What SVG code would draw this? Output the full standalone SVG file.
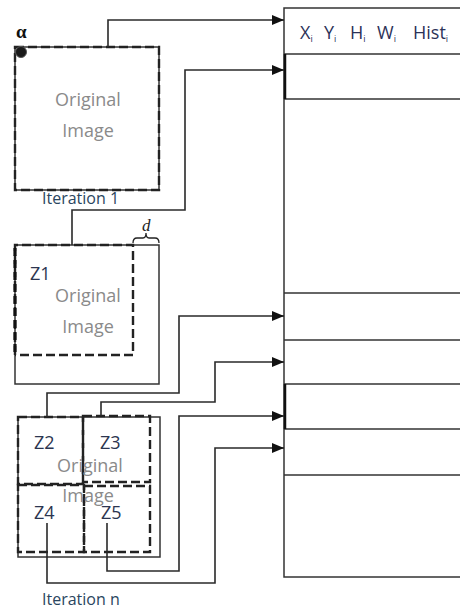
<svg xmlns="http://www.w3.org/2000/svg" width="460" height="609" viewBox="0 0 460 609">
<style>
.ln{fill:none;stroke:#2a2a2a;stroke-width:1.6}
.sol{fill:none;stroke:#333;stroke-width:1.5}
.dsh{fill:none;stroke:#222;stroke-width:2.4;stroke-dasharray:9 4}
.gray{font-family:"Open Sans",sans-serif;font-size:18px;fill:#8a8a8a}
.lab{font-family:"Open Sans",sans-serif;font-size:18px;fill:#2c3550}
.it{font-family:"Open Sans",sans-serif;font-size:16px;fill:#2a4560}
.hd{font-family:"Open Sans",sans-serif;font-size:18px;fill:#2c3258}
.sub{font-size:9px}
</style>
<defs>
<marker id="ah" viewBox="0 0 12 10" refX="12" refY="5" markerWidth="12" markerHeight="10" markerUnits="userSpaceOnUse" orient="auto">
<path d="M0,0 L12,5 L0,10 Z" fill="#111"/>
</marker>
</defs>

<g id="table">
<rect x="284" y="8" width="190" height="569" class="sol"/>
<line x1="284" y1="54" x2="460" y2="54" class="sol"/>
<line x1="284" y1="99" x2="460" y2="99" class="sol"/>
<line x1="284" y1="293" x2="460" y2="293" class="sol"/>
<line x1="284" y1="340" x2="460" y2="340" class="sol"/>
<line x1="284" y1="384" x2="460" y2="384" class="sol"/>
<line x1="284" y1="429" x2="460" y2="429" class="sol"/>
<line x1="284" y1="475" x2="460" y2="475" class="sol"/>
<line x1="285" y1="54" x2="285" y2="99" stroke="#111" stroke-width="2.5"/>
<line x1="285" y1="384" x2="285" y2="429" stroke="#111" stroke-width="2.5"/>
<text class="hd" y="39"><tspan x="300">X</tspan><tspan class="sub" dy="3">i</tspan><tspan x="324" dy="-3">Y</tspan><tspan class="sub" dy="3">i</tspan><tspan x="350" dy="-3">H</tspan><tspan class="sub" dy="3">i</tspan><tspan x="377" dy="-3">W</tspan><tspan class="sub" dy="3">i</tspan><tspan x="413" dy="-3">Hist</tspan><tspan class="sub" dy="3">i</tspan></text>
</g>

<g id="iter1">
<rect x="15" y="47" width="144" height="143" class="sol"/>
<rect x="15" y="47" width="144" height="143" class="dsh"/>
<text class="gray" x="88" y="106" text-anchor="middle">Original</text>
<text class="gray" x="88" y="137" text-anchor="middle">Image</text>
<circle cx="21" cy="52" r="5.5" fill="#1a1a1a" stroke="#555" stroke-width="1"/>
<text x="16" y="38" font-family="Liberation Serif,serif" font-size="19" font-weight="bold" fill="#111">α</text>
<text class="it" x="42" y="204">Iteration 1</text>
</g>

<g id="z1">
<rect x="15" y="245" width="144" height="139" class="sol"/>
<path d="M15,355 V245 H133 V355 H15" class="dsh"/>
<line x1="15" y1="248" x2="15" y2="352" stroke="#111" stroke-width="3.2" stroke-dasharray="8 4"/>
<text class="lab" x="30" y="280">Z1</text>
<text class="gray" x="88" y="302" text-anchor="middle">Original</text>
<text class="gray" x="88" y="333" text-anchor="middle">Image</text>
<path d="M133,243 Q133,238 137,238 H143 Q146,238 146,233 Q146,238 149,238 H155 Q159,238 159,243" fill="none" stroke="#222" stroke-width="1.3"/>
<text x="142" y="231" font-family="Liberation Serif,serif" font-size="17" font-style="italic" fill="#222">d</text>
</g>

<g id="itern">
<rect x="18" y="417" width="142" height="140" class="sol"/>
<rect x="18" y="417" width="65" height="67" class="dsh"/>
<rect x="83" y="416" width="67" height="66" class="dsh"/>
<rect x="18" y="485" width="66" height="67" class="dsh"/>
<rect x="84" y="486" width="66" height="66" class="dsh"/>
<text class="gray" x="90" y="472" text-anchor="middle">Original</text>
<text class="gray" x="88" y="502" text-anchor="middle">Image</text>
<text class="lab" x="34" y="449">Z2</text>
<text class="lab" x="100" y="449">Z3</text>
<text class="lab" x="34" y="519">Z4</text>
<text class="lab" x="101" y="519">Z5</text>
<text class="it" x="42" y="605">Iteration n</text>
</g>

<g id="connectors">
<path class="ln" d="M108,47 V20 H284" marker-end="url(#ah)"/>
<path class="ln" d="M72,245 V210 H185 V70 H284" marker-end="url(#ah)"/>
<path class="ln" d="M47,417 V393 H179 V316 H284" marker-end="url(#ah)"/>
<path class="ln" d="M101,416 V402 H215 V362 H284" marker-end="url(#ah)"/>
<path class="ln" d="M107,523 V571 H179 V416 H284" marker-end="url(#ah)"/>
<path class="ln" d="M47,523 V583 H215 V448 H284" marker-end="url(#ah)"/>
</g>
</svg>
